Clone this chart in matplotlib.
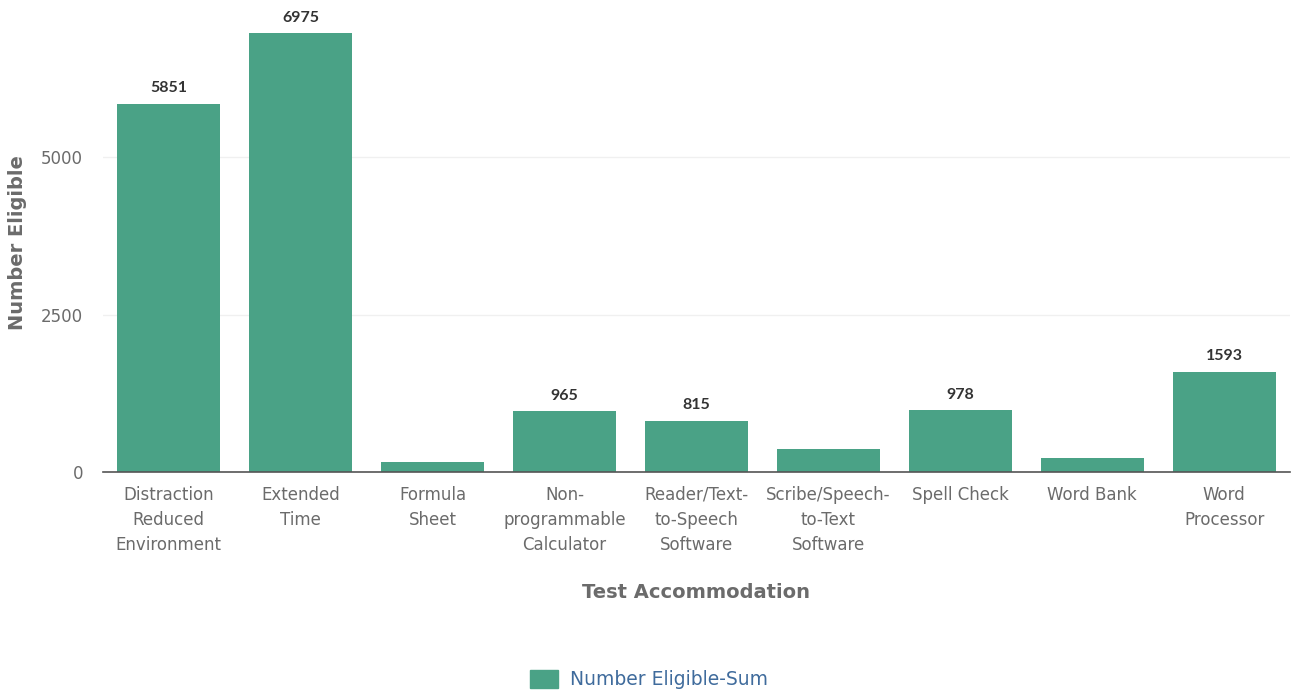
import matplotlib.pyplot as plt
from matplotlib.patches import Patch

# data
categories = [
    'Distraction\nReduced\nEnvironment',
    'Extended\nTime',
    'Formula\nSheet',
    'Non-\nprogrammable\nCalculator',
    'Reader/Text-\nto-Speech\nSoftware',
    'Scribe/Speech-\nto-Text\nSoftware',
    'Spell Check',
    'Word Bank',
    'Word\nProcessor',
]
values = [5851, 6975, 160, 965, 815, 360, 978, 220, 1593]
# only these bars carry a value label in the original
labelled = [True, True, False, True, True, False, True, False, True]
y_ticks = [0, 2500, 5000]

bar_color = '#4aa286'
text_gray = '#6b6b6b'

fig = plt.figure(figsize=(12.98, 6.96), dpi=100)
ax = fig.add_axes([0.079, 0.322, 0.915, 0.678])

x = list(range(len(categories)))
bars = ax.bar(x, values, width=0.78, color=bar_color, zorder=2)

for b, v, show in zip(bars, values, labelled):
    if show:
        ax.annotate(str(v), (b.get_x() + b.get_width() / 2, v),
                    xytext=(0, 6), textcoords='offset points',
                    ha='center', va='bottom', fontsize=11.5, fontweight='bold',
                    family='Lato', color='#333333')

ax.set_xlim(-0.5, len(categories) - 0.5)
ax.set_ylim(0, 7500)
ax.set_yticks(y_ticks)
ax.set_yticklabels([str(t) for t in y_ticks])
ax.set_xticks(x)
ax.set_xticklabels(categories, fontsize=12, color=text_gray, linespacing=1.5)
ax.tick_params(axis='y', labelsize=12, labelcolor=text_gray, length=0, pad=14)
ax.tick_params(axis='x', length=0, pad=10)

ax.grid(axis='y', color='#f0f0f0', linewidth=1, zorder=0)
for side in ['top', 'right', 'left']:
    ax.spines[side].set_visible(False)
ax.spines['bottom'].set_color('#555555')
ax.spines['bottom'].set_linewidth(1.2)
ax.spines['bottom'].set_zorder(3)

# axis titles
fig.text(18 / 1298, 1 - 243 / 696, 'Number Eligible', rotation=90, ha='center', va='center',
         fontsize=14, fontweight='bold', color=text_gray)
fig.text(0.536, 0.148, 'Test Accommodation', ha='center', va='center',
         fontsize=14, fontweight='bold', color=text_gray)

handle = Patch(facecolor=bar_color, edgecolor=bar_color)
fig.legend([handle], ['Number Eligible-Sum'], loc='center', bbox_to_anchor=(0.5, 0.024),
           frameon=False, fontsize=13.5, labelcolor='#3f6b9c',
           handlelength=1.5, handleheight=1.1, handletextpad=0.6)

fig.savefig('out.png', dpi=100)
